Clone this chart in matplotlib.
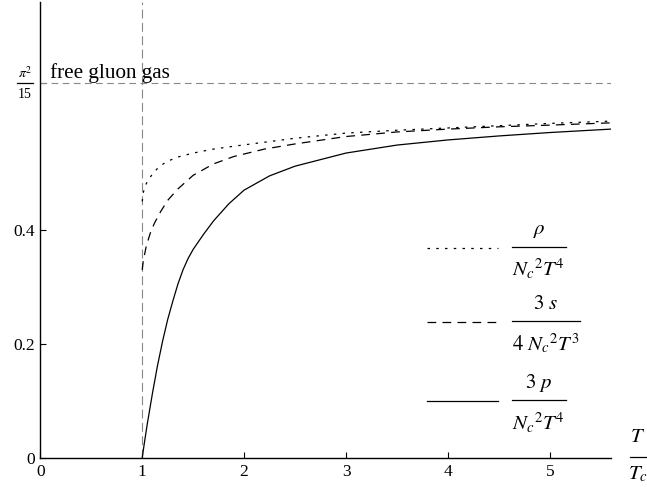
import numpy as np
import matplotlib
matplotlib.use("Agg")
import matplotlib.pyplot as plt
from matplotlib.lines import Line2D

plt.rcParams['font.family'] = ['Liberation Serif', 'DejaVu Serif']
plt.rcParams['mathtext.fontset'] = 'stix'

# free gluon gas limit
sb_limit = np.pi ** 2 / 15

# 3p / (Nc^2 T^4)
T_p = [1.0, 1.02, 1.05, 1.1, 1.15, 1.2, 1.25, 1.3, 1.35, 1.4, 1.45, 1.5, 1.6,
       1.7, 1.85, 2.0, 2.25, 2.5, 3.0, 3.5, 4.0, 4.5, 5.0, 5.6]
p_vals = [0.0, 0.025, 0.06, 0.113, 0.162, 0.205, 0.243, 0.275, 0.305, 0.33,
          0.35, 0.366, 0.392, 0.416, 0.446, 0.470, 0.495, 0.512, 0.535, 0.549,
          0.558, 0.565, 0.571, 0.577]

# 3s / (4 Nc^2 T^3)
T_s = [1.0, 1.01, 1.04, 1.08, 1.12, 1.18, 1.25, 1.35, 1.5, 1.7, 1.9, 2.2,
       2.5, 3.0, 3.5, 4.0, 4.5, 5.0, 5.6]
s_vals = [0.33, 0.345, 0.372, 0.395, 0.412, 0.432, 0.452, 0.472, 0.496, 0.516,
          0.529, 0.542, 0.551, 0.564, 0.572, 0.577, 0.581, 0.584, 0.588]

# rho / (Nc^2 T^4)
T_rho = [1.0, 1.01, 1.03, 1.06, 1.1, 1.16, 1.24, 1.35, 1.5, 1.7, 1.9, 2.2,
         2.5, 3.0, 3.5, 4.0, 4.5, 5.0, 5.6]
rho_vals = [0.45, 0.465, 0.478, 0.488, 0.498, 0.51, 0.52, 0.528, 0.535, 0.542,
            0.547, 0.554, 0.561, 0.570, 0.575, 0.579, 0.583, 0.587, 0.591]

x_ticks = [0, 1, 2, 3, 4, 5]
y_ticks = [0, 0.2, 0.4, sb_limit]
y_labels = ['0', '0.2', '0.4', '']

W, H = 647, 487
fig = plt.figure(figsize=(W / 100, H / 100), dpi=100)
ax = fig.add_axes([40.3 / W, (H - 458) / H, 570.7 / W, 456 / H])


def fx(x):
    return x / W


def fy(y):
    return 1 - y / H


def frac(xl, xr, ybar, num, den, size, dnum, dden):
    """fraction drawn at pixel position (from top-left)"""
    xc = (xl + xr) / 2
    fig.text(fx(xc), fy(ybar - dnum), num, fontsize=size, ha='center', va='baseline')
    fig.text(fx(xc), fy(ybar + dden), den, fontsize=size, ha='center', va='baseline')
    fig.add_artist(Line2D([fx(xl), fx(xr)], [fy(ybar), fy(ybar)],
                          transform=fig.transFigure, color='black', lw=0.9))


# reference lines
ax.axvline(1.0, color='#888888', lw=0.8, dashes=(8, 4))
ax.axhline(sb_limit, color='#888888', lw=0.8, dashes=(6, 4))

styles = [dict(color='black', lw=0.9, dashes=(2, 5)),
          dict(color='black', lw=0.9, dashes=(7, 5)),
          dict(color='black', lw=0.9)]

ax.plot(T_rho, rho_vals, **styles[0])
ax.plot(T_s, s_vals, **styles[1])
ax.plot(T_p, p_vals, **styles[2])

ax.text(0.1, 0.666, 'free gluon gas', fontsize=15.2, va='baseline')

ax.set_xlim(0, 5.6)
ax.set_ylim(0, 0.8)
ax.set_xticks(x_ticks)
ax.set_yticks(y_ticks)
ax.set_yticklabels(y_labels)
ax.tick_params(direction='in', length=4, width=0.8, labelsize=12.5, pad=4)
for side in ['top', 'right']:
    ax.spines[side].set_visible(False)
for side in ['left', 'bottom']:
    ax.spines[side].set_linewidth(1.0)

# pi^2/15 label on the y axis
frac(17, 33, 83.3, r'$\pi^2$', '15', 10, 5.5, 14.5)

# legend, drawn by hand
legend_rows = [
    (246.5, 566, r'$\rho$', r'$N_c{}^2T^4$', styles[0]),
    (321, 580, r'$3\ s$', r'$4\ N_c{}^2T^3$', styles[1]),
    (400, 566, r'$3\ p$', r'$N_c{}^2T^4$', styles[2]),
]
for ybar, xr, num, den, st in legend_rows:
    fig.add_artist(Line2D([fx(426.7), fx(498)], [fy(ybar + 1), fy(ybar + 1)],
                          transform=fig.transFigure, **st))
    frac(511.7, xr, ybar, num, den, 15, 12, 30)

# axis label T / Tc
frac(630, 646, 457.3, r'$T$', r'$T_c$', 15, 15.5, 22.5)

fig.savefig('out.png', dpi=100)
